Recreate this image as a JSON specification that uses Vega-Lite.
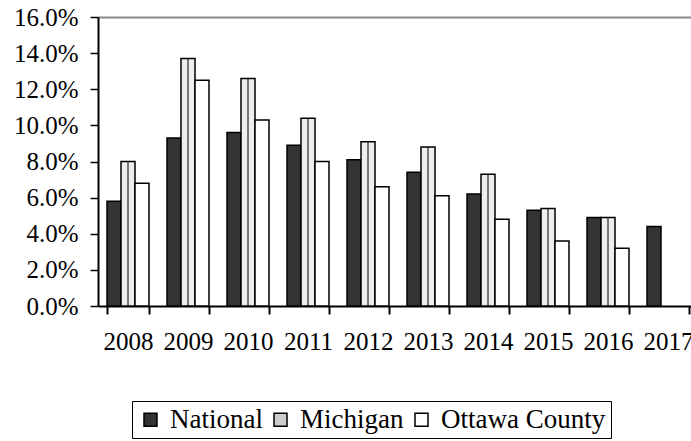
{
  "$schema": "https://vega.github.io/schema/vega-lite/v6.json",
  "width": 600,
  "height": 289,
  "padding": {"left": 13, "top": 5, "right": 0, "bottom": 0},
  "background": "white",
  "config": {"view": {"stroke": null}, "font": "Liberation Serif, Times New Roman, serif"},
  "data": {
    "values": [
      {"year": "2008", "series": "National", "value": 5.8},
      {"year": "2009", "series": "National", "value": 9.3},
      {"year": "2010", "series": "National", "value": 9.6},
      {"year": "2011", "series": "National", "value": 8.9},
      {"year": "2012", "series": "National", "value": 8.1},
      {"year": "2013", "series": "National", "value": 7.4},
      {"year": "2014", "series": "National", "value": 6.2},
      {"year": "2015", "series": "National", "value": 5.3},
      {"year": "2016", "series": "National", "value": 4.9},
      {"year": "2017", "series": "National", "value": 4.4},
      {"year": "2008", "series": "Michigan", "value": 8.0},
      {"year": "2009", "series": "Michigan", "value": 13.7},
      {"year": "2010", "series": "Michigan", "value": 12.6},
      {"year": "2011", "series": "Michigan", "value": 10.4},
      {"year": "2012", "series": "Michigan", "value": 9.1},
      {"year": "2013", "series": "Michigan", "value": 8.8},
      {"year": "2014", "series": "Michigan", "value": 7.3},
      {"year": "2015", "series": "Michigan", "value": 5.4},
      {"year": "2016", "series": "Michigan", "value": 4.9},
      {"year": "2008", "series": "Ottawa County", "value": 6.8},
      {"year": "2009", "series": "Ottawa County", "value": 12.5},
      {"year": "2010", "series": "Ottawa County", "value": 10.3},
      {"year": "2011", "series": "Ottawa County", "value": 8.0},
      {"year": "2012", "series": "Ottawa County", "value": 6.6},
      {"year": "2013", "series": "Ottawa County", "value": 6.1},
      {"year": "2014", "series": "Ottawa County", "value": 4.8},
      {"year": "2015", "series": "Ottawa County", "value": 3.6},
      {"year": "2016", "series": "Ottawa County", "value": 3.2}
    ]
  },
  "mark": {"type": "bar", "stroke": "black", "strokeWidth": 1.5},
  "encoding": {
    "x": {
      "field": "year",
      "type": "nominal",
      "scale": {"paddingInner": 0.3, "paddingOuter": 0.15},
      "axis": {
        "title": null,
        "labelAngle": 0,
        "tickBand": "extent",
        "domainColor": "black",
        "domainWidth": 2,
        "tickColor": "black",
        "tickWidth": 2,
        "tickSize": 8,
        "labelFont": "Liberation Serif, Times New Roman, serif",
        "labelFontSize": 25,
        "labelColor": "black",
        "labelPadding": 15
      }
    },
    "xOffset": {
      "field": "series",
      "type": "nominal",
      "sort": ["National", "Michigan", "Ottawa County"],
      "scale": {"paddingInner": 0, "paddingOuter": 0}
    },
    "y": {
      "field": "value",
      "type": "quantitative",
      "scale": {"domain": [0, 16], "nice": false},
      "axis": {
        "title": null,
        "values": [0, 2, 4, 6, 8, 10, 12, 14, 16],
        "labelExpr": "format(datum.value, '.1f') + '%'",
        "grid": true,
        "gridColor": "#888888",
        "gridWidth": 2,
        "gridOpacity": {"condition": {"test": "datum.value == 16", "value": 1}, "value": 0},
        "domainColor": "black",
        "domainWidth": 2,
        "tickColor": "black",
        "tickWidth": 1.5,
        "tickSize": 8,
        "labelFont": "Liberation Serif, Times New Roman, serif",
        "labelFontSize": 25,
        "labelColor": "black",
        "labelPadding": 12
      }
    },
    "fill": {
      "condition": {
        "test": "datum.series === 'Michigan'",
        "value": {
          "gradient": "linear",
          "x1": 0, "y1": 0, "x2": 1, "y2": 0,
          "stops": [
            {"offset": 0, "color": "#eeeeee"},
            {"offset": 0.42, "color": "#eeeeee"},
            {"offset": 0.42, "color": "#777777"},
            {"offset": 0.58, "color": "#777777"},
            {"offset": 0.58, "color": "#eeeeee"},
            {"offset": 1, "color": "#eeeeee"}
          ]
        }
      },
      "field": "series",
      "type": "nominal",
      "sort": ["National", "Michigan", "Ottawa County"],
      "scale": {
        "domain": ["National", "Michigan", "Ottawa County"],
        "range": ["#333333", "#cccccc", "#ffffff"]
      },
      "legend": {
        "title": null,
        "orient": "none",
        "legendX": 34,
        "legendY": 384,
        "direction": "horizontal",
        "symbolType": "square",
        "symbolSize": 169,
        "symbolStrokeColor": "black",
        "symbolStrokeWidth": 1.5,
        "labelFont": "Liberation Serif, Times New Roman, serif",
        "labelFontSize": 27,
        "labelColor": "black",
        "labelOffset": 6,
        "labelLimit": 300,
        "columnPadding": 4,
        "strokeColor": "black",
        "padding": 5
      }
    }
  }
}
